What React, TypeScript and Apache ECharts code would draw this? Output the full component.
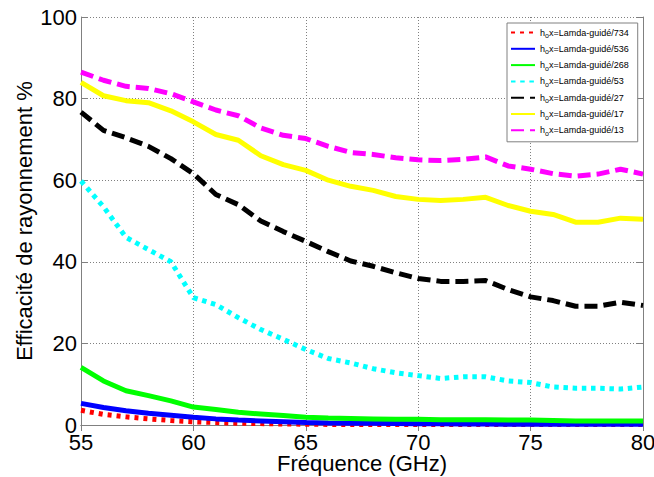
import React, { useEffect, useRef } from "react";
import * as echarts from "echarts";

const freq = [55, 56, 57, 58, 59, 60, 61, 62, 63, 64, 65, 66, 67, 68, 69, 70, 71, 72, 73, 74, 75, 76, 77, 78, 79, 80];

const eff734 = [3.6, 2.6, 2.0, 1.5, 1.1, 0.8, 0.6, 0.45, 0.35, 0.25, 0.2, 0.15, 0.12, 0.1, 0.1, 0.1, 0.1, 0.1, 0.1, 0.1, 0.1, 0.1, 0.1, 0.1, 0.1, 0.1];
const eff536 = [5.3, 4.3, 3.5, 2.9, 2.4, 1.9, 1.5, 1.2, 1.0, 0.8, 0.6, 0.5, 0.45, 0.4, 0.35, 0.3, 0.3, 0.25, 0.25, 0.2, 0.2, 0.2, 0.2, 0.2, 0.2, 0.2];
const eff268 = [14.1, 10.8, 8.4, 7.2, 5.9, 4.4, 3.8, 3.1, 2.7, 2.3, 1.9, 1.7, 1.6, 1.5, 1.4, 1.4, 1.3, 1.3, 1.3, 1.2, 1.2, 1.1, 1.0, 1.0, 1.0, 1.0];
const eff53 = [59.8, 53.5, 46, 43, 40, 31.2, 29.5, 26.3, 23.4, 21, 18.5, 16.3, 15.2, 13.8, 12.8, 12.1, 11.4, 11.8, 11.8, 10.8, 10.4, 9.3, 9.0, 9.0, 8.8, 9.3];
const eff27 = [76.7, 72.2, 70.4, 68.3, 65.3, 61.6, 56.5, 54, 50, 47.4, 45, 42.5, 40.2, 38.9, 37.3, 35.9, 35.2, 35.2, 35.4, 33.2, 31.4, 30.5, 29.1, 29.1, 30.1, 29.3];
const eff17 = [84, 80.7, 79.5, 79, 77, 74.3, 71.2, 69.8, 66, 63.8, 62.4, 60, 58.5, 57.5, 56, 55.3, 55, 55.3, 55.8, 53.8, 52.4, 51.6, 49.7, 49.7, 50.7, 50.4];
const eff13 = [86.5, 84.5, 83, 82.5, 81.2, 79.2, 77.2, 75.8, 72.8, 71, 70.2, 68.3, 66.8, 66.3, 65.5, 65, 64.8, 65.1, 65.7, 63.5, 62.7, 61.6, 61, 61.5, 62.7, 61.5];

const seriesNames = [
  "x=Lamda-guidé/734",
  "x=Lamda-guidé/536",
  "x=Lamda-guidé/268",
  "x=Lamda-guidé/53",
  "x=Lamda-guidé/27",
  "x=Lamda-guidé/17",
  "x=Lamda-guidé/13",
];
const seriesData = [eff734, eff536, eff268, eff53, eff27, eff17, eff13];
const seriesColors = ["#ff0000", "#0000ff", "#00ff00", "#00ffff", "#000000", "#ffff00", "#ff00ff"];
const seriesDash: any[] = [[4, 5], "solid", "solid", [4.5, 4.7], [13, 6], "solid", [13, 6]];

const xTicks = { min: 55, max: 80, interval: 5 };
const yTicks = { min: 0, max: 100, interval: 20 };

const FONT = "'Liberation Sans', Arial, Helvetica, sans-serif";
const AXIS_GRAY = "#808080";

export default function App() {
  const ref = useRef<HTMLDivElement>(null);
  useEffect(() => {
    if (!ref.current) return;
    const chart = echarts.init(ref.current, undefined, { renderer: "svg" });
    const boxAxisLine = { show: true, lineStyle: { color: AXIS_GRAY, width: 1 } };
    const innerTick = { show: true, inside: true, length: 6, lineStyle: { color: AXIS_GRAY } };
    const option: any = {
      animation: false,
      backgroundColor: "#ffffff",
      grid: { left: 81, right: 11, top: 17, bottom: 52, containLabel: false, outerBoundsMode: "none" },
      legend: {
        orient: "vertical",
        left: 507,
        top: 23,
        padding: [3, 9, 5, 3],
        itemWidth: 24,
        itemHeight: 14,
        itemGap: 3.3,
        backgroundColor: "#ffffff",
        borderColor: AXIS_GRAY,
        borderWidth: 1,
        borderRadius: 0,
        itemStyle: { opacity: 0, borderWidth: 0, color: "rgba(0,0,0,0)" },
        data: seriesNames,
        formatter: (name: string) => `{a|h}{s|o}{a|${name}}`,
        textStyle: {
          fontFamily: FONT,
          fontSize: 9,
          color: "#000",
          rich: {
            a: { fontFamily: FONT, fontSize: 9, lineHeight: 14, color: "#000" },
            s: { fontFamily: FONT, fontSize: 7, lineHeight: 8, padding: [6, 0, 0, 0], color: "#000" },
          },
        },
      },
      xAxis: [
        {
          type: "value",
          min: xTicks.min,
          max: xTicks.max,
          interval: xTicks.interval,
          position: "bottom",
          name: "Fréquence (GHz)",
          nameLocation: "middle",
          nameGap: 28,
          nameMoveOverlap: false,
          nameTextStyle: { fontFamily: FONT, fontSize: 22, lineHeight: 20, color: "#000" },
          axisLine: boxAxisLine,
          axisTick: innerTick,
          axisLabel: { fontFamily: FONT, fontSize: 22, lineHeight: 18, color: "#000", margin: 8 },
          splitLine: { show: true, lineStyle: { color: AXIS_GRAY, type: [1, 2], width: 1 } },
        },
        {
          type: "value",
          min: xTicks.min,
          max: xTicks.max,
          interval: xTicks.interval,
          position: "top",
          axisLine: boxAxisLine,
          axisTick: innerTick,
          axisLabel: { show: false },
          splitLine: { show: false },
        },
      ],
      yAxis: [
        {
          type: "value",
          min: yTicks.min,
          max: yTicks.max,
          interval: yTicks.interval,
          position: "left",
          name: "Efficacité de rayonnement %",
          nameLocation: "middle",
          nameGap: 46,
          nameMoveOverlap: false,
          nameTextStyle: { fontFamily: FONT, fontSize: 22, color: "#000" },
          axisLine: boxAxisLine,
          axisTick: innerTick,
          axisLabel: { fontFamily: FONT, fontSize: 22, lineHeight: 16, color: "#000", margin: 4 },
          splitLine: { show: true, lineStyle: { color: AXIS_GRAY, type: [1, 2], width: 1 } },
        },
        {
          type: "value",
          min: yTicks.min,
          max: yTicks.max,
          interval: yTicks.interval,
          position: "right",
          axisLine: boxAxisLine,
          axisTick: innerTick,
          axisLabel: { show: false },
          splitLine: { show: false },
        },
      ],
      series: seriesNames.map((name, i) => ({
        name,
        type: "line",
        xAxisIndex: 0,
        yAxisIndex: 0,
        symbol: "none",
        smooth: false,
        data: freq.map((f, j) => [f, seriesData[i][j]]),
        lineStyle: { color: seriesColors[i], width: 5, type: seriesDash[i], cap: "butt" },
        itemStyle: { color: seriesColors[i] },
      })),
    };
    chart.setOption(option);
    return () => chart.dispose();
  }, []);
  return <div ref={ref} style={{ width: 654, height: 477, position: "absolute", left: 0, top: 0 }} />;
}
